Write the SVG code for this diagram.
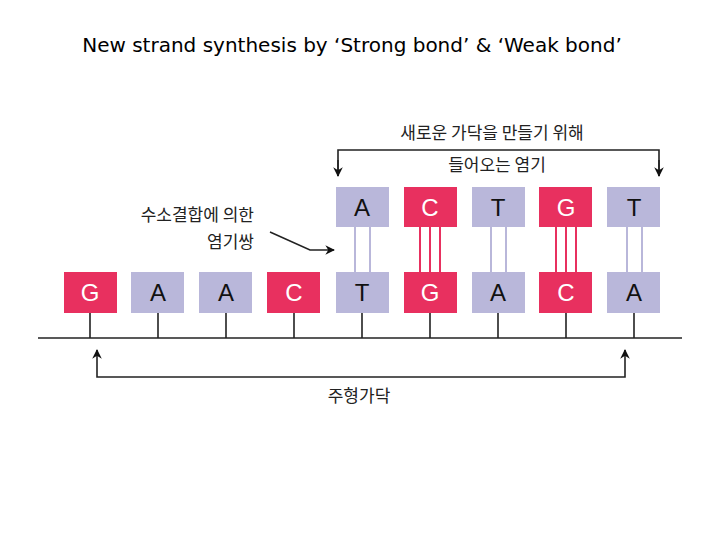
<svg xmlns="http://www.w3.org/2000/svg" width="720" height="540" viewBox="0 0 720 540">
<style>
.r{fill:#E8305F}.p{fill:#B9B7DA}
.bw{font:24px "Liberation Sans",sans-serif;fill:#fff;text-anchor:middle}
.bk{font:24px "Liberation Sans",sans-serif;fill:#111;text-anchor:middle}
.k{font:17px "Noto Sans CJK KR",sans-serif;fill:#222}
.ln{stroke:#222;stroke-width:1.6;fill:none}
.hp{stroke:#B9B7DA;stroke-width:2}.hr{stroke:#E8305F;stroke-width:2}
</style>
<defs><marker id="a" viewBox="0 0 10 10" refX="9" refY="5" markerWidth="6" markerHeight="6" orient="auto"><path d="M0,0L10,5L0,10L3,5z" fill="#111"/></marker></defs>
<rect width="720" height="540" fill="#fff"/>
<text x="352" y="52" text-anchor="middle" style="font:20px 'DejaVu Sans',sans-serif;fill:#000">New strand synthesis by ‘Strong bond’ &amp; ‘Weak bond’</text>
<g id="connectors">
<path class="ln" d="M38,338H682"/>
<path class="ln" d="M90,313V338M158,313V338M226,313V338M294,313V338M362,313V338M430,313V338M498,313V338M566,313V338M634,313V338"/>
<path class="hp" d="M355,227V272M370,227V272M491,227V272M506,227V272M627,227V272M642,227V272"/>
<path class="hr" d="M420,227V272M430,227V272M440,227V272M556,227V272M566,227V272M576,227V272"/>
<path class="ln" d="M338,176V150H659V176"/>
<path class="ln" d="M338,160V176" marker-end="url(#a)"/>
<path class="ln" d="M659,160V176" marker-end="url(#a)"/>
<path class="ln" d="M97,362V377H625V362"/>
<path class="ln" d="M97,362V350" marker-end="url(#a)"/>
<path class="ln" d="M625,362V350" marker-end="url(#a)"/>
<path class="ln" d="M270,232L310,250H334" marker-end="url(#a)"/>
</g>
<g id="labels">
<text class="k" x="492" y="139" text-anchor="middle">새로운 가닥을 만들기 위해</text>
<text class="k" x="497" y="171" text-anchor="middle">들어오는 염기</text>
<text class="k" x="254" y="221" text-anchor="end">수소결합에 의한</text>
<text class="k" x="254" y="248" text-anchor="end">염기쌍</text>
<text class="k" x="359" y="402" text-anchor="middle">주형가닥</text>
</g>
<g id="b1"><rect class="r" x="64" y="272" width="53" height="41"/><text class="bw" x="90" y="301">G</text></g>
<g id="b2"><rect class="p" x="131" y="272" width="53" height="41"/><text class="bk" x="158" y="301">A</text></g>
<g id="b3"><rect class="p" x="199" y="272" width="53" height="41"/><text class="bk" x="226" y="301">A</text></g>
<g id="b4"><rect class="r" x="267" y="272" width="53" height="41"/><text class="bw" x="294" y="301">C</text></g>
<g id="b5"><rect class="p" x="336" y="272" width="53" height="41"/><text class="bk" x="362" y="301">T</text></g>
<g id="b6"><rect class="r" x="404" y="272" width="53" height="41"/><text class="bw" x="430" y="301">G</text></g>
<g id="b7"><rect class="p" x="472" y="272" width="53" height="41"/><text class="bk" x="498" y="301">A</text></g>
<g id="b8"><rect class="r" x="539" y="272" width="53" height="41"/><text class="bw" x="566" y="301">C</text></g>
<g id="b9"><rect class="p" x="607" y="272" width="53" height="41"/><text class="bk" x="634" y="301">A</text></g>
<g id="t1"><rect class="p" x="336" y="187" width="53" height="40"/><text class="bk" x="362" y="216">A</text></g>
<g id="t2"><rect class="r" x="404" y="187" width="53" height="40"/><text class="bw" x="430" y="216">C</text></g>
<g id="t3"><rect class="p" x="472" y="187" width="53" height="40"/><text class="bk" x="498" y="216">T</text></g>
<g id="t4"><rect class="r" x="539" y="187" width="53" height="40"/><text class="bw" x="566" y="216">G</text></g>
<g id="t5"><rect class="p" x="607" y="187" width="53" height="40"/><text class="bk" x="634" y="216">T</text></g>
</svg>
